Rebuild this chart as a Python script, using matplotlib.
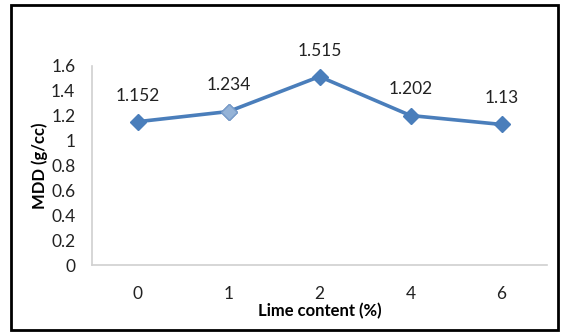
import matplotlib
matplotlib.use("Agg")
import matplotlib.pyplot as plt
from matplotlib.patches import Rectangle

# Maximum dry density versus lime content
lime_content = ["0", "1", "2", "4", "6"]
mdd = [1.152, 1.234, 1.515, 1.202, 1.13]
y_ticks = [0, 0.2, 0.4, 0.6, 0.8, 1, 1.2, 1.4, 1.6]

plt.rcParams['font.family'] = ['Lato', 'DejaVu Sans']

W, H = 562, 333
fig = plt.figure(figsize=(W / 100, H / 100), dpi=100)
ax = fig.add_axes([92 / W, 1 - 265 / H, 455 / W, 199 / H])

x = list(range(len(lime_content)))
ax.plot(x, mdd, color='#4a7ebb', linewidth=2.6, marker='D', markersize=8,
        markerfacecolor='#4a7ebb', markeredgecolor='#4a7ebb', zorder=3)
# second point is drawn with a lighter marker
ax.plot(x[1], mdd[1], marker='D', markersize=8, color='#95b3d7',
        markeredgecolor='#7a9cc8', linestyle='none', zorder=4)

for xi, v in zip(x, mdd):
    ax.annotate(f"{v:g}", (xi, v), xytext=(0, 13), textcoords='offset points',
                ha='center', va='bottom', fontsize=12.5, color='#222222')

ax.set_xlim(-0.5, len(lime_content) - 0.5)
ax.set_ylim(0, 1.6)
ax.set_xticks(x)
ax.set_xticklabels(lime_content)
ax.set_yticks(y_ticks)
ax.set_yticklabels([f"{t:g}" for t in y_ticks])
ax.tick_params(length=0, labelsize=12.5, colors='#222222')
ax.tick_params(axis='x', pad=15)
ax.tick_params(axis='y', pad=12)

for side in ['top', 'right']:
    ax.spines[side].set_visible(False)
for side in ['left', 'bottom']:
    ax.spines[side].set_color('#d0d0d0')
    ax.spines[side].set_linewidth(1.2)

ax.set_xlabel("Lime content (%)", fontsize=12, fontweight='bold', labelpad=1)
ax.set_ylabel("MDD (g/cc)", fontsize=12, fontweight='bold', labelpad=2)

# outer frame around the chart
fig.patches.append(Rectangle((11 / W, 3 / H), 547 / W, 325 / H,
                             transform=fig.transFigure, fill=False,
                             edgecolor='black', linewidth=2))

fig.savefig("out.png", dpi=100, facecolor='white')
